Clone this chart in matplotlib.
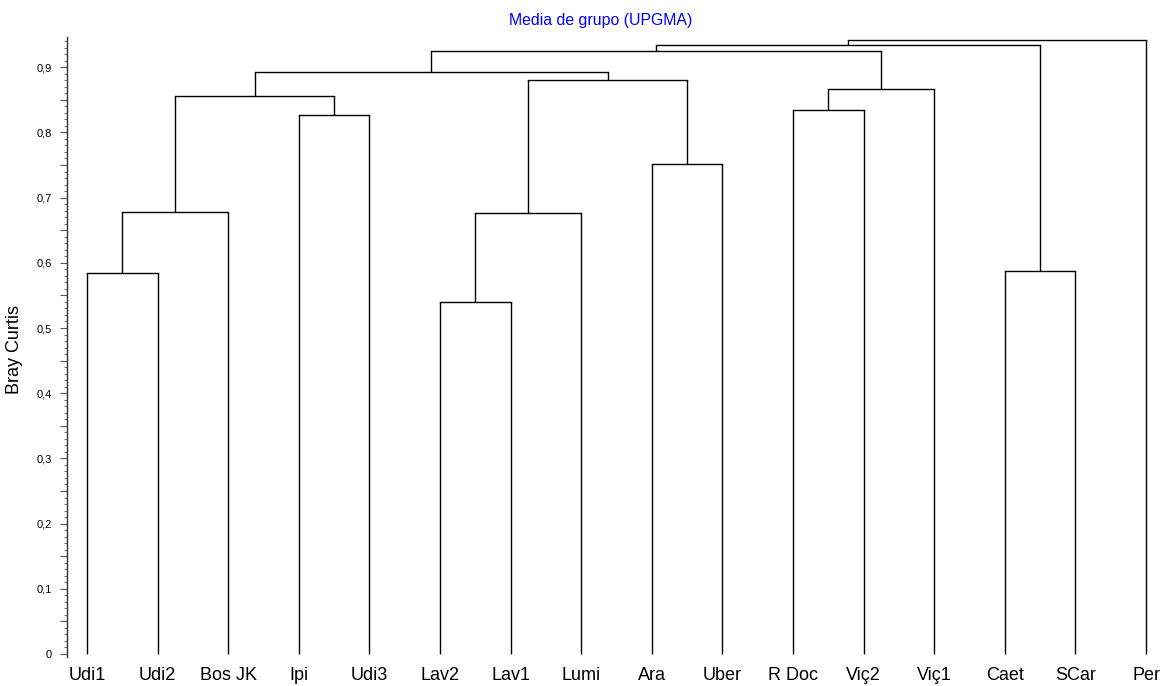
import matplotlib
matplotlib.use("Agg")
import matplotlib.pyplot as plt
from matplotlib.ticker import FixedLocator, MultipleLocator, FuncFormatter

plt.rcParams['font.family'] = ['Liberation Sans', 'DejaVu Sans']

# Leaves in dendrogram order
leaf_labels = ["Udi1", "Udi2", "Bos JK", "Ipi", "Udi3", "Lav2", "Lav1", "Lumi",
               "Ara", "Uber", "R Doc", "Viç2", "Viç1", "Caet", "SCar", "Per"]

# Merges (scipy-like ids: leaves 0..15, new clusters 16..)
merge_left = [0, 16, 3, 17, 5, 20, 8, 21, 19, 10, 25, 24, 13, 27, 29]
merge_right = [1, 2, 4, 18, 6, 7, 9, 22, 23, 11, 12, 26, 14, 28, 15]
merge_height = [0.584, 0.678, 0.827, 0.856, 0.540, 0.676, 0.752, 0.880,
                0.892, 0.834, 0.867, 0.925, 0.587, 0.934, 0.942]

fig = plt.figure(figsize=(11.68, 6.86), dpi=100)
n = len(leaf_labels)
# axes placement in pixels
ax_left, ax_right = 67, 1166
y0_pix, y_top_pix = 654, 37
scale = 652.0  # px per unit
ymin, ymax = -0.005, (y0_pix - y_top_pix) / scale
bottom_pix = y0_pix + 0.005 * scale
ax = fig.add_axes([ax_left / 1168, (686 - bottom_pix) / 686,
                   (ax_right - ax_left) / 1168, (bottom_pix - y_top_pix) / 686])

pos = {i: float(i) for i in range(n)}
hgt = {i: 0.0 for i in range(n)}
for k, (a, b, h) in enumerate(zip(merge_left, merge_right, merge_height)):
    nid = n + k
    xa, xb = pos[a], pos[b]
    ax.plot([xa, xa], [hgt[a], h], color='black', lw=1.0, solid_capstyle='butt')
    ax.plot([xb, xb], [hgt[b], h], color='black', lw=1.0, solid_capstyle='butt')
    ax.plot([xa, xb], [h, h], color='black', lw=1.0, solid_capstyle='projecting')
    pos[nid] = (xa + xb) / 2
    hgt[nid] = h

spacing = 70.6
ax.set_xlim(-20 / spacing, (n - 1) + 20 / spacing)
ax.set_ylim(ymin, ymax)

for s in ['top', 'right', 'bottom']:
    ax.spines[s].set_visible(False)
ax.spines['left'].set_linewidth(1.0)
ax.spines['left'].set_color('#333333')

ax.set_xticks(range(n))
ax.set_xticklabels(leaf_labels, fontsize=13)
ax.tick_params(axis='x', length=0, pad=7)

ax.yaxis.set_major_locator(FixedLocator([i * 0.05 for i in range(19)]))
def fmt(v, p):
    k = round(v / 0.05)
    if k % 2:
        return ""
    if k == 0:
        return "0"
    return f"{v:.1f}".replace('.', ',')
ax.yaxis.set_major_formatter(FuncFormatter(fmt))
ax.yaxis.set_minor_locator(MultipleLocator(0.01))
ax.tick_params(axis='y', which='major', length=5, width=0.8, labelsize=8, colors='#555555', labelcolor='black', pad=6)
ax.tick_params(axis='y', which='minor', length=2.5, width=0.8, colors='#777777')

fig.text(15 / 1168, 1 - 349 / 686, "Bray Curtis", rotation=90,
         fontsize=13, ha='center', va='center')

fig.text(0.5 * (509 + 693) / 1168, 1 - 20 / 686, "Media de grupo (UPGMA)",
         color='#0000ff', fontsize=11.4, ha='center', va='center')

fig.savefig("out.png", dpi=100)
